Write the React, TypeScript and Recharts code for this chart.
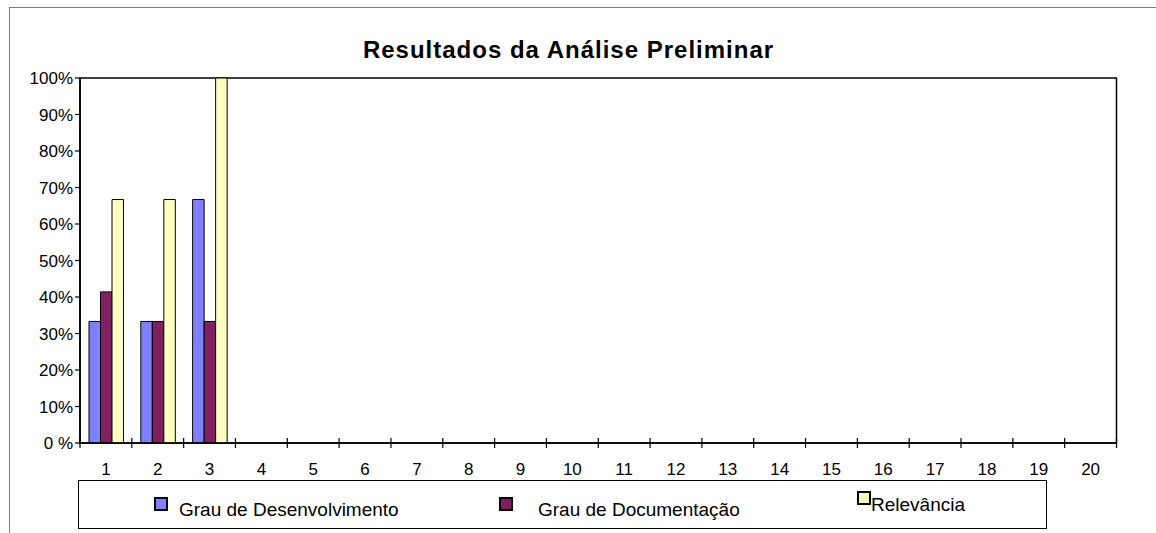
import React from 'react';
import { BarChart, Bar, XAxis, YAxis, Legend, ReferenceArea } from 'recharts';

const chartTitle = 'Resultados da Análise Preliminar';
const categories = ['1', '2', '3', '4', '5', '6', '7', '8', '9', '10', '11', '12', '13', '14', '15', '16', '17', '18', '19', '20'];
const grauDesenvolvimento: (number | null)[] = [33.3, 33.3, 66.7, null, null, null, null, null, null, null, null, null, null, null, null, null, null, null, null, null];
const grauDocumentacao: (number | null)[] = [41.4, 33.3, 33.3, null, null, null, null, null, null, null, null, null, null, null, null, null, null, null, null, null];
const relevancia: (number | null)[] = [66.7, 66.7, 100, null, null, null, null, null, null, null, null, null, null, null, null, null, null, null, null, null];
const yTicks = [0, 10, 20, 30, 40, 50, 60, 70, 80, 90, 100];
const yTickLabels = ['0 %', '10%', '20%', '30%', '40%', '50%', '60%', '70%', '80%', '90%', '100%'];
const seriesKeys = ['desenvolvimento', 'documentacao', 'relevancia'];
const seriesNames = ['Grau de Desenvolvimento', 'Grau de Documentação', 'Relevância'];
const seriesColors = ['#8080FF', '#802060', '#FFFFC0'];

const data = categories.map((c, i) => ({
  cat: c,
  desenvolvimento: grauDesenvolvimento[i],
  documentacao: grauDocumentacao[i],
  relevancia: relevancia[i],
}));

const FONT = '"Liberation Sans", Arial, sans-serif';

function XTick(props: any) {
  const { x, y, payload, index, visibleTicksCount, width } = props;
  const half = payload && typeof payload.offset === 'number' && payload.offset > 0
    ? payload.offset
    : width / visibleTicksCount / 2;
  const left = x - half;
  const right = x + half;
  return (
    <g>
      <line x1={left} x2={left} y1={y - 5} y2={y + 5} stroke="#000" strokeWidth={1.2} />
      {index === visibleTicksCount - 1 && (
        <line x1={right} x2={right} y1={y - 5} y2={y + 5} stroke="#000" strokeWidth={1.2} />
      )}
      <text x={x} y={y + 32} textAnchor="middle" fontSize={17} fontFamily={FONT} fill="#000">
        {payload.value}
      </text>
    </g>
  );
}

const legendItemWidths = [345, 358, undefined];
const legendSquareGap = [11, 25, 0];
const legendSquareTop = [16, 16, 10];
const legendTextTop = [19, 19, 14];

function LegendContent() {
  return (
    <div style={{ display: 'flex', alignItems: 'flex-start', paddingLeft: 75, height: '100%', boxSizing: 'border-box' }}>
      {seriesNames.map((name, i) => (
        <div key={name} style={{ display: 'flex', alignItems: 'flex-start', width: legendItemWidths[i], flex: 'none' }}>
          <div style={{ width: 14, height: 14, boxSizing: 'border-box', border: '2px solid #000', background: seriesColors[i], marginTop: legendSquareTop[i], marginRight: legendSquareGap[i], flex: 'none' }} />
          <div style={{ fontSize: 19, lineHeight: '19px', fontFamily: FONT, color: '#000', marginTop: legendTextTop[i], whiteSpace: 'nowrap' }}>
            {name}
          </div>
        </div>
      ))}
    </div>
  );
}

export default function App() {
  return (
    <div style={{ position: 'absolute', left: 0, top: 0, width: 1156, height: 533, overflow: 'hidden', background: '#fff', fontFamily: FONT }}>
      <div style={{ position: 'absolute', left: 9, top: 7, width: 1300, height: 700, borderLeft: '1px solid #7a7a7a', borderTop: '1px solid #7a7a7a' }} />
      <div style={{ position: 'absolute', left: 568.5, top: 38, transform: 'translateX(-50%)', fontSize: 24, lineHeight: '24px', fontWeight: 'bold', whiteSpace: 'nowrap', color: '#000', letterSpacing: 1 }}>
        {chartTitle}
      </div>
      <div style={{ position: 'absolute', left: 0, top: 0 }}>
        <BarChart width={1156} height={533} data={data} margin={{ top: 78, right: 39.5, bottom: 60, left: 20 }} barGap={0}>
          <XAxis dataKey="cat" type="category" height={30} tickSize={0} tickMargin={0} tickLine={false} axisLine={{ stroke: '#000', strokeWidth: 1.5 }} tick={<XTick />} interval={0} />
          <YAxis type="number" domain={[0, 100]} ticks={yTicks} width={60} tickSize={5} tickMargin={2}
            tickFormatter={(v: number) => yTickLabels[yTicks.indexOf(v)]}
            tick={{ fontSize: 17, fill: '#000', fontFamily: FONT }}
            axisLine={{ stroke: '#000', strokeWidth: 1.5 }} tickLine={{ stroke: '#000', strokeWidth: 1.2 }} interval={0} />
          <ReferenceArea x1={categories[0]} x2={categories[categories.length - 1]} y1={yTicks[0]} y2={yTicks[yTicks.length - 1]}
            fill="none" fillOpacity={0} stroke="#000" strokeWidth={1.5} ifOverflow="visible" />
          {seriesKeys.map((k, i) => (
            <Bar key={k} dataKey={k} name={seriesNames[i]} fill={seriesColors[i]} stroke="#000" strokeWidth={1} barSize={11.5} isAnimationActive={false} />
          ))}
          <Legend verticalAlign="middle" align="center" layout="horizontal" content={<LegendContent />}
            wrapperStyle={{ left: 78, top: 480, width: 969, height: 49, border: '1px solid #000', boxSizing: 'border-box', background: '#fff' }} />
        </BarChart>
      </div>
    </div>
  );
}
